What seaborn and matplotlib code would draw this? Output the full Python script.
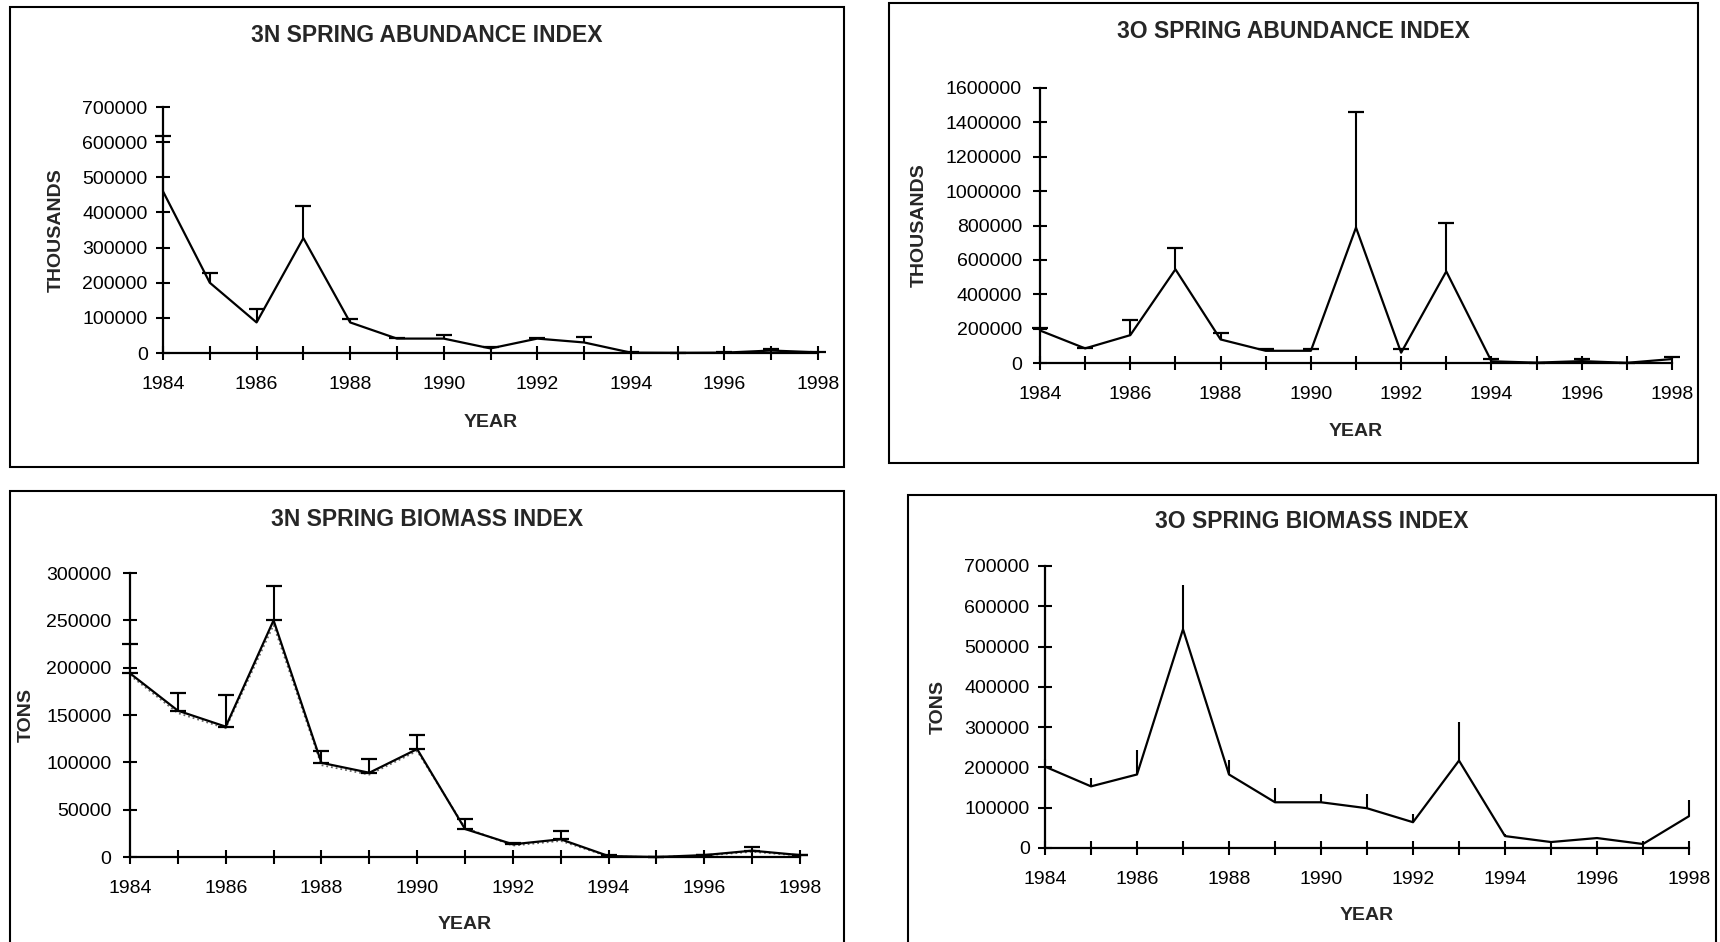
import matplotlib
matplotlib.use("Agg")
import matplotlib.pyplot as plt
import seaborn as sns
import numpy as np
from matplotlib.patches import Rectangle

# ---------------- data ----------------
years = list(range(1984, 1999))
year_labels = [str(y) if (y - 1984) % 2 == 0 else "" for y in years]

titles = ["3N SPRING ABUNDANCE INDEX", "3O SPRING ABUNDANCE INDEX",
          "3N SPRING BIOMASS INDEX", "3O SPRING BIOMASS INDEX"]
xlabel = "YEAR"
ylabels = ["THOUSANDS", "THOUSANDS", "TONS", "TONS"]

n_abund = [460000, 200000, 87000, 327000, 87000, 41000, 41000, 13000,
           41000, 30000, 1000, 500, 1000, 7000, 2000]
n_abund_err = [157000, 28000, 38000, 90000, 9000, 2000, 10000, 3000,
               2000, 15000, 1000, 0, 1000, 4000, 0]

o_abund = [189000, 85000, 162000, 545000, 137000, 71000, 71000, 788000,
           60000, 533000, 10000, 2000, 11000, 1000, 23000]
o_abund_err = [16000, 3000, 91000, 127000, 37000, 8000, 8000, 673000,
               21000, 279000, 11000, 0, 10000, 0, 12000]

n_bio = [194000, 154600, 137700, 250000, 99500, 89000, 114000, 29600,
         13400, 18700, 1000, 0, 2000, 6700, 2000]
n_bio_err = [31000, 19000, 33300, 36000, 12500, 15000, 15000, 10400,
             1500, 8800, 1000, 0, 500, 3900, 500]
n_bio_alt = [192000, 152000, 136000, 245000, 97000, 87000, 112000, 31000,
             12000, 17000, 500, 0, 1500, 5500, 1500]

o_bio = [202000, 153000, 182500, 543000, 182500, 113500, 113500, 98700,
         64000, 217000, 29600, 14800, 24700, 9900, 79000]
o_bio_err = [20000, 22000, 60500, 110000, 36500, 35500, 21500, 36300,
             21000, 95500, 4000, 0, 0, 0, 41000]

yticks_list = [list(range(0, 700001, 100000)),
               list(range(0, 1600001, 200000)),
               list(range(0, 300001, 50000)),
               list(range(0, 700001, 100000))]

# ---------------- style ----------------
sns.set_theme(style="white")
plt.rcParams['font.family'] = ['Liberation Sans', 'DejaVu Sans']

W, H = 1720, 942
fig = plt.figure(figsize=(W / 100, H / 100), dpi=100)


def px_axes(x0, x1, ytop, ybot):
    return [x0 / W, 1 - ybot / H, (x1 - x0) / W, (ybot - ytop) / H]


def frame(x0, y0, x1, y1):
    r = Rectangle((x0 / W, 1 - y1 / H), (x1 - x0) / W, (y1 - y0) / H,
                  transform=fig.transFigure, fill=False, lw=1.5,
                  ec="black", zorder=0)
    fig.add_artist(r)


def style_axis(ax, yt, ypad, xlab_frac, ylab_frac, ylabel):
    ax.set_xlim(1984, 1998)
    ax.set_ylim(0, yt[-1])
    ax.set_xticks(years)
    ax.set_xticklabels(year_labels)
    ax.set_yticks(yt)
    ax.set_yticklabels([str(v) for v in yt])
    for s in ["top", "right"]:
        ax.spines[s].set_visible(False)
    for s in ["left", "bottom"]:
        ax.spines[s].set_linewidth(1.6)
        ax.spines[s].set_color("black")
    ax.tick_params(direction="inout", length=10, width=1.5, colors="black",
                   labelsize=14, left=True, bottom=True)
    ax.tick_params(axis="x", pad=11.5)
    ax.tick_params(axis="y", pad=ypad)
    ax.set_xlabel(xlabel, fontsize=14, fontweight="bold", va="center")
    ax.xaxis.set_label_coords(0.5, xlab_frac)
    ax.set_ylabel(ylabel, fontsize=14, fontweight="bold", va="center")
    ax.yaxis.set_label_coords(ylab_frac, 0.5)
    ax.set_facecolor("none")
    ax.grid(False)


def upper_bars(ax, y, err, cap=True):
    y = np.asarray(y, float)
    top = y + np.asarray(err, float)
    ax.vlines(years, y, top, colors="black", lw=1.5, clip_on=False, zorder=3)
    if cap:
        ax.plot(years, top, ls="none", marker="_", ms=12, mew=1.6,
                color="black", clip_on=False, zorder=3)


# frames
frame(10, 7, 844, 467)
frame(889, 3, 1698, 463)
frame(10, 491, 844, 960)
frame(908, 495, 1716, 960)

# titles
for (tx, ty), t in zip([(427, 35), (1293, 32), (427, 520), (1312, 522)], titles):
    fig.text(tx / W, 1 - ty / H, t, ha="center", va="center",
             fontsize=16.5, fontweight="bold")

# Panel 1
ax1 = fig.add_axes(px_axes(163, 818, 107, 353))
sns.lineplot(x=years, y=n_abund, ax=ax1, color="black", lw=1.6, clip_on=False)
upper_bars(ax1, n_abund, n_abund_err)
style_axis(ax1, yticks_list[0], 6, -0.281, -0.163, ylabels[0])

# Panel 2
ax2 = fig.add_axes(px_axes(1040, 1672, 88, 363))
sns.lineplot(x=years, y=o_abund, ax=ax2, color="black", lw=1.6, clip_on=False)
upper_bars(ax2, o_abund, o_abund_err)
style_axis(ax2, yticks_list[1], 8, -0.249, -0.1915, ylabels[1])

# Panel 3
ax3 = fig.add_axes(px_axes(130, 800, 573, 857))
sns.lineplot(x=years, y=n_bio_alt, ax=ax3, color="#666666", lw=1.3,
             linestyle=":", clip_on=False)
sns.lineplot(x=years, y=n_bio, ax=ax3, color="black", lw=1.6, clip_on=False)
ax3.errorbar(years, n_bio, yerr=[np.zeros(len(years)), n_bio_err], fmt="none",
             ecolor="black", elinewidth=1.5, capsize=6, capthick=1.6,
             clip_on=False, zorder=3)
style_axis(ax3, yticks_list[2], 8.5, -0.237, -0.155, ylabels[2])

# Panel 4
ax4 = fig.add_axes(px_axes(1045, 1689, 566, 848))
sns.lineplot(x=years, y=o_bio, ax=ax4, color="black", lw=1.6, clip_on=False)
upper_bars(ax4, o_bio, o_bio_err, cap=False)
style_axis(ax4, yticks_list[3], 6, -0.239, -0.166, ylabels[3])

fig.savefig("out.png", dpi=100, facecolor="white")
